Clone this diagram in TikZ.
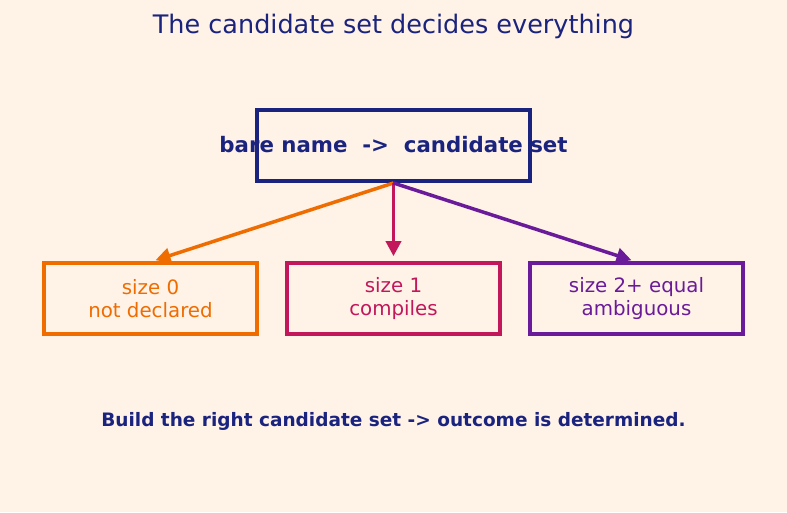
\documentclass[tikz,border=0pt]{standalone}
\usepackage{fontspec}
\setmainfont{DejaVu Sans}
\usetikzlibrary{arrows.meta}
\definecolor{bg}{HTML}{FFF2E7}
\definecolor{navy}{HTML}{1A237E}
\definecolor{orng}{HTML}{EF6C00}
\definecolor{crim}{HTML}{C2185B}
\definecolor{purp}{HTML}{6A1B9A}
\tikzset{
  box/.style={draw, line width=3.6pt, minimum width=213pt, minimum height=71pt, inner sep=0pt, align=center, font=\fontsize{19.8}{22.5}\selectfont},
  conn/.style={line width=3.5pt, -{Triangle[length=15pt,width=15pt]}, shorten >=0pt},
}
\begin{document}
\begin{tikzpicture}[x=1pt,y=1pt]
\fill[bg] (0,0) rectangle (787,-512);
\useasboundingbox (0,0) rectangle (787,-512);
\node[text=navy, font=\fontsize{25.5}{30}\selectfont] (title) at (393.5,-26) {The candidate set decides everything};
\node[draw=navy, line width=4pt, minimum width=273pt, minimum height=71pt, inner sep=0pt] (top) at (393.5,-145.5) {};
\node[text=navy, font=\bfseries\fontsize{21.3}{26}\selectfont] (toptext) at (393.5,-145) {bare name\ \ ->\ \ candidate set};
\node[box, draw=orng, text=orng] (o) at (150.5,-298.5) {size 0\\not declared};
\node[box, draw=crim, text=crim] (c) at (393.5,-298.5) {size 1\\compiles};
\node[box, draw=purp, text=purp] (p) at (636.5,-298.5) {size 2+ equal\\ambiguous};
\draw[conn, orng] (top.south) -- ([xshift=5pt,yshift=1pt]o.north);
\draw[conn, crim] (top.south) -- ([yshift=5pt]c.north);
\draw[conn, purp] (top.south) -- ([xshift=-5pt,yshift=1pt]p.north);
\node[text=navy, font=\bfseries\fontsize{18.5}{22}\selectfont] (foot) at (393.5,-421) {Build the right candidate set -> outcome is determined.};
\end{tikzpicture}
\end{document}
